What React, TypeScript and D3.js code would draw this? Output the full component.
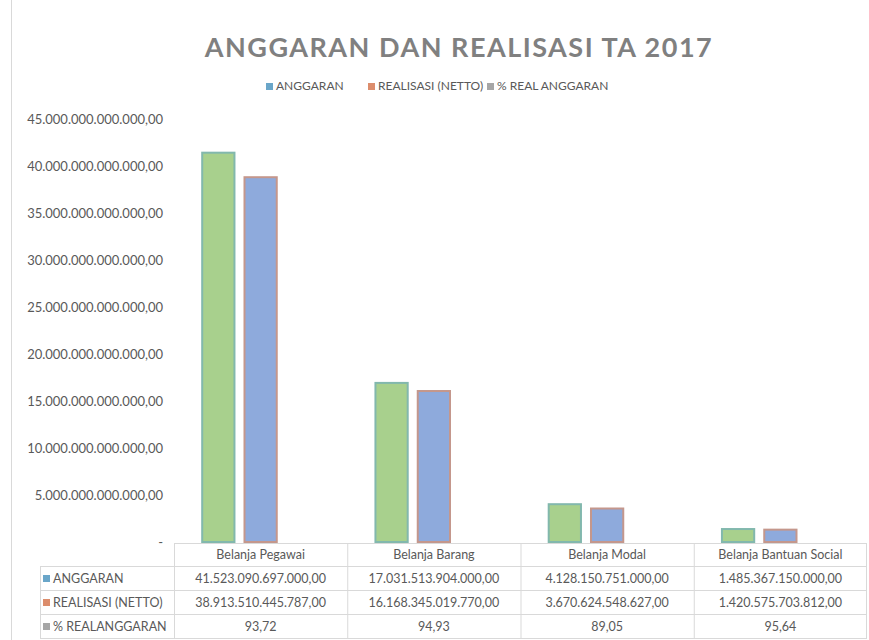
import React from "react";
import * as d3 from "d3";

const categories = ["Belanja Pegawai", "Belanja Barang", "Belanja Modal", "Belanja Bantuan Social"];
const seriesNames = ["ANGGARAN", "REALISASI (NETTO)", "% REAL ANGGARAN"];
const tableLabels = ["ANGGARAN", "REALISASI (NETTO)", "% REALANGGARAN"];
const anggaran = [41523090697000, 17031513904000, 4128150751000, 1485367150000];
const realisasi = [38913510445787, 16168345019770, 3670624548627, 1420575703812];
const persenReal = [93.72, 94.93, 89.05, 95.64];
const yTicks = [0, 5e12, 10e12, 15e12, 20e12, 25e12, 30e12, 35e12, 40e12, 45e12];
const title = "ANGGARAN DAN REALISASI TA 2017";

const seriesValues = [anggaran, realisasi, persenReal];
const legendColors = ["#6aa6c9", "#dc8d6c", "#a6a6a6"];
const barFills = ["#a8d08d", "#8eaadc", "#a6a6a6"];
const barStrokes = ["#82b8ad", "#c4978c", "none"];

const locale = d3.formatLocale({ decimal: ",", thousands: ".", grouping: [3], currency: ["", ""] });
const fmt = locale.format(",.2f");

export default function App() {
  const W = 869, H = 640;
  const font = "Lato, 'Open Sans', sans-serif";
  const textColor = "#595959";
  const tableLeft = 40, tableRight = 867;
  const y0 = 542;
  const y = d3.scaleLinear().domain([0, 45e12]).range([y0, 119]);
  const x = d3.scaleBand<string>().domain(categories).range([174, tableRight]).paddingInner(0).paddingOuter(0);
  const xs = d3.scaleBand<string>().domain(seriesNames).range([0, x.bandwidth()]).paddingInner(0.19).paddingOuter(0.643);

  const rowTops = [543, 566, 590, 614, 638];
  const lineColor = "#d9d9d9";

  const legendItems = [
    { x: 266, label: seriesNames[0] },
    { x: 368, label: seriesNames[1] },
    { x: 487, label: seriesNames[2] },
  ];

  return (
    <svg width={W} height={H} style={{ position: "absolute", left: 0, top: 0, background: "#fff" }} fontFamily={font}>
      <rect x={0} y={0} width={W} height={H} fill="#fff" />
      <line x1={11.5} x2={11.5} y1={0} y2={H} stroke="#d9d9d9" />
      <text x={459} y={57} textAnchor="middle" fontSize={27} fontWeight={700} fill="#808080" letterSpacing={1.5}>
        {title}
      </text>
      {legendItems.map((d, i) => (
        <g key={i}>
          <rect x={d.x} y={83} width={7} height={7} fill={legendColors[i]} />
          <text x={d.x + 10} y={90} fontSize={12} fill={textColor}>{d.label}</text>
        </g>
      ))}
      {yTicks.map((t, i) => (
        <text key={i} x={163} y={y(t) + 4.5} textAnchor="end" fontSize={13} fill={textColor}>
          {t === 0 ? "-" : fmt(t)}
        </text>
      ))}
      {categories.map((c, ci) => (
        <g key={c} transform={`translate(${x(c)},0)`}>
          {seriesNames.map((s, si) => {
            const v = seriesValues[si][ci];
            const top = y(v);
            return (
              <rect
                key={s}
                x={(xs(s) as number) + 1}
                y={top + 1}
                width={xs.bandwidth() - 2}
                height={Math.max(0, y0 - top - 1)}
                fill={barFills[si]}
                stroke={barStrokes[si]}
                strokeWidth={2}
              />
            );
          })}
        </g>
      ))}
      {/* table */}
      <g stroke={lineColor} strokeWidth={1}>
        <line x1={174} x2={tableRight} y1={rowTops[0] + 0.5} y2={rowTops[0] + 0.5} />
        {rowTops.slice(1).map((r, i) => (
          <line key={i} x1={tableLeft} x2={tableRight} y1={r + 0.5} y2={r + 0.5} />
        ))}
        <line x1={tableLeft + 0.5} x2={tableLeft + 0.5} y1={rowTops[1]} y2={rowTops[4]} />
        {categories.map((c) => (
          <line key={c} x1={(x(c) as number) + 0.5} x2={(x(c) as number) + 0.5} y1={rowTops[0]} y2={rowTops[4]} />
        ))}
        <line x1={tableRight - 0.5} x2={tableRight - 0.5} y1={rowTops[0]} y2={rowTops[4]} />
      </g>
      {categories.map((c) => (
        <text key={c} x={(x(c) as number) + x.bandwidth() / 2} y={(rowTops[0] + rowTops[1]) / 2 + 4} textAnchor="middle" fontSize={12.5} fill={textColor}>
          {c}
        </text>
      ))}
      {tableLabels.map((l, si) => (
        <g key={l}>
          <rect x={43} y={(rowTops[si + 1] + rowTops[si + 2]) / 2 - 3} width={7} height={7} fill={legendColors[si]} />
          <text x={53} y={(rowTops[si + 1] + rowTops[si + 2]) / 2 + 4.5} fontSize={12.5} fill={textColor}>{l}</text>
          {categories.map((c, ci) => (
            <text key={c} x={(x(c) as number) + x.bandwidth() / 2} y={(rowTops[si + 1] + rowTops[si + 2]) / 2 + 4.5} textAnchor="middle" fontSize={12.5} fill={textColor}>
              {fmt(seriesValues[si][ci])}
            </text>
          ))}
        </g>
      ))}
    </svg>
  );
}
